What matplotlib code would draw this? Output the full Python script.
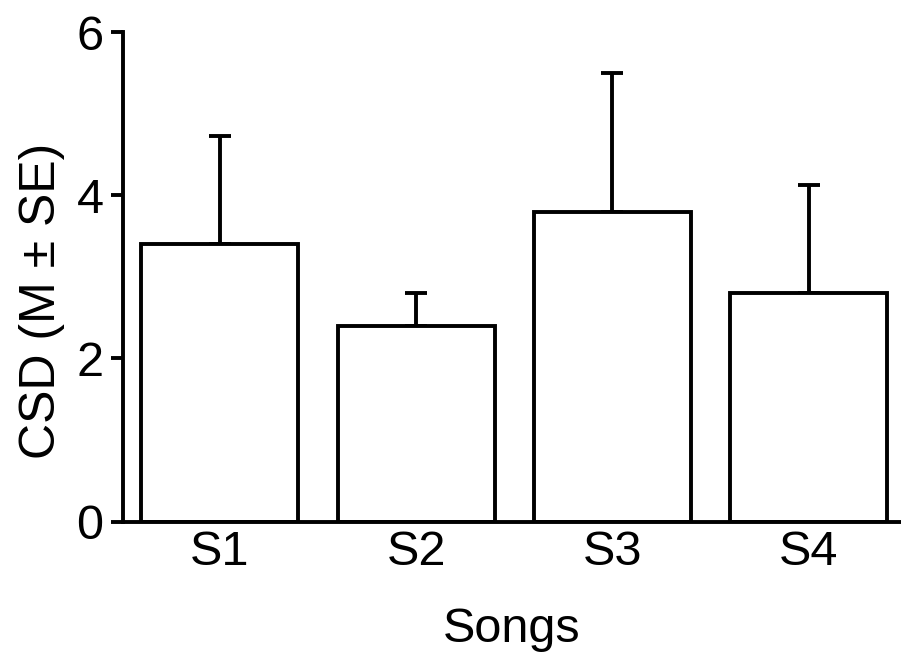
import matplotlib
matplotlib.use("Agg")
import matplotlib.pyplot as plt
import numpy as np

plt.rcParams["font.family"] = ["Liberation Sans", "DejaVu Sans"]

songs = ["S1", "S2", "S3", "S4"]
csd_mean = [3.40, 2.40, 3.79, 2.80]
csd_se = [1.33, 0.40, 1.71, 1.33]

fig = plt.figure(figsize=(9.01, 6.62), dpi=100)
ax = fig.add_axes([123 / 901, 1 - 521.5 / 662, 1 - 123 / 901, (521.5 - 32) / 662])

x = np.arange(len(songs))
lw = 2.8
ax.bar(x, csd_mean, width=0.8, color="white", edgecolor="black", linewidth=lw,
       zorder=2)
ax.errorbar(x, csd_mean, yerr=[np.zeros(len(songs)), csd_se], fmt="none",
            ecolor="black", elinewidth=lw, capsize=8, capthick=lw, zorder=1)

ax.set_xlim(-0.494, 3.47)
ax.set_ylim(0, 6)
ax.set_yticks([0, 2, 4, 6])
ax.set_xticks(x)
ax.set_xticklabels(songs)

ax.spines["top"].set_visible(False)
ax.spines["right"].set_visible(False)
ax.spines["left"].set_linewidth(lw)
ax.spines["bottom"].set_linewidth(lw)
ax.spines["left"].set_bounds(0, 6)

ax.tick_params(axis="y", direction="out", length=9, width=lw, labelsize=35, pad=5)
ax.tick_params(axis="x", length=0, labelsize=35, pad=6)

ax.set_xlabel("Songs", fontsize=35)
ax.set_ylabel("CSD (M ± SE)", fontsize=36)
ax.xaxis.set_label_coords(0.5, -0.175)
ax.yaxis.set_label_coords(-0.075, 0.45)

fig.savefig("out.png", dpi=100)
